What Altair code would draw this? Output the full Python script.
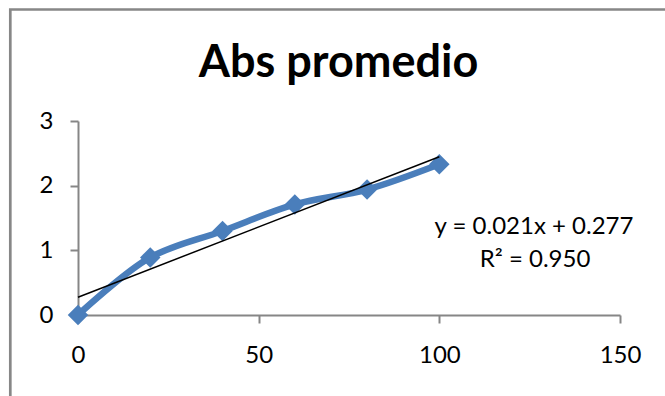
import altair as alt
import pandas as pd

# ---- data ----
x_vals = [0, 20, 40, 60, 80, 100]
abs_vals = [0.0, 0.89, 1.30, 1.71, 1.94, 2.33]
x_ticks = [0, 50, 100, 150]
y_ticks = [0, 1, 2, 3]
title_text = "Abs promedio"
eq_text = "y = 0.021x + 0.277"
r2_text = "R² = 0.950"

df = pd.DataFrame({"x": x_vals, "y": abs_vals})

FONT = "Lato"
AXIS_GRAY = "#868686"
BLUE = "#4A7EBB"

xs = alt.Scale(domain=[0, 150], nice=False, zero=False)
ys = alt.Scale(domain=[0, 3], nice=False, zero=False)

xax = alt.Axis(values=x_ticks, title=None, grid=False, domainColor=AXIS_GRAY,
               domainWidth=2, tickColor=AXIS_GRAY, tickWidth=2, tickSize=8,
               labelFont=FONT, labelFontSize=24, labelColor="black",
               labelPadding=20, labelFlush=False, format="d")
yax = alt.Axis(values=y_ticks, title=None, grid=False, domainColor=AXIS_GRAY,
               domainWidth=2, tickColor=AXIS_GRAY, tickWidth=2, tickSize=8,
               labelFont=FONT, labelFontSize=24, labelColor="black",
               labelPadding=17, labelFlush=False, format="d")

base = alt.Chart(df)

line = base.mark_line(color=BLUE, strokeWidth=6.5, interpolate="catmull-rom").encode(
    x=alt.X("x:Q", scale=xs, axis=xax),
    y=alt.Y("y:Q", scale=ys, axis=yax),
)

points = base.mark_point(shape="diamond", filled=True, size=420, color=BLUE, opacity=1).encode(
    x=alt.X("x:Q", scale=xs),
    y=alt.Y("y:Q", scale=ys),
)

trend = base.transform_regression("x", "y", extent=[0, 100]).mark_line(
    color="black", strokeWidth=1.5
).encode(
    x=alt.X("x:Q", scale=xs),
    y=alt.Y("y:Q", scale=ys),
)

one = alt.Data(values=[{}])

border = alt.Chart(one).mark_rect(fill="transparent", stroke="#878787", strokeWidth=2.7).encode(
    x=alt.value(-67.7), x2=alt.value(700), y=alt.value(-111.5), y2=alt.value(400)
)

title = alt.Chart(one).mark_text(font=FONT, fontSize=45, fontWeight="bold", color="black",
                                 align="center", baseline="alphabetic").encode(
    x=alt.value(260.5), y=alt.value(-44), text=alt.value(title_text)
)

eq = alt.Chart(one).mark_text(font=FONT, fontSize=24, color="black",
                              align="center", baseline="alphabetic").encode(
    x=alt.value(456), y=alt.value(113), text=alt.value(eq_text)
)

r2 = alt.Chart(one).mark_text(font=FONT, fontSize=24, color="black",
                              align="center", baseline="alphabetic").encode(
    x=alt.value(457), y=alt.value(146), text=alt.value(r2_text)
)

chart = alt.layer(border, line, points, trend, title, eq, r2).properties(
    width=542,
    height=194,
    autosize=alt.AutoSizeParams(type="none"),
    padding={"left": 78, "top": 121, "right": 45, "bottom": 81},
    background="white",
).configure_view(strokeWidth=0)

chart.save("out.html", embed_options={"renderer": "svg", "actions": False})
